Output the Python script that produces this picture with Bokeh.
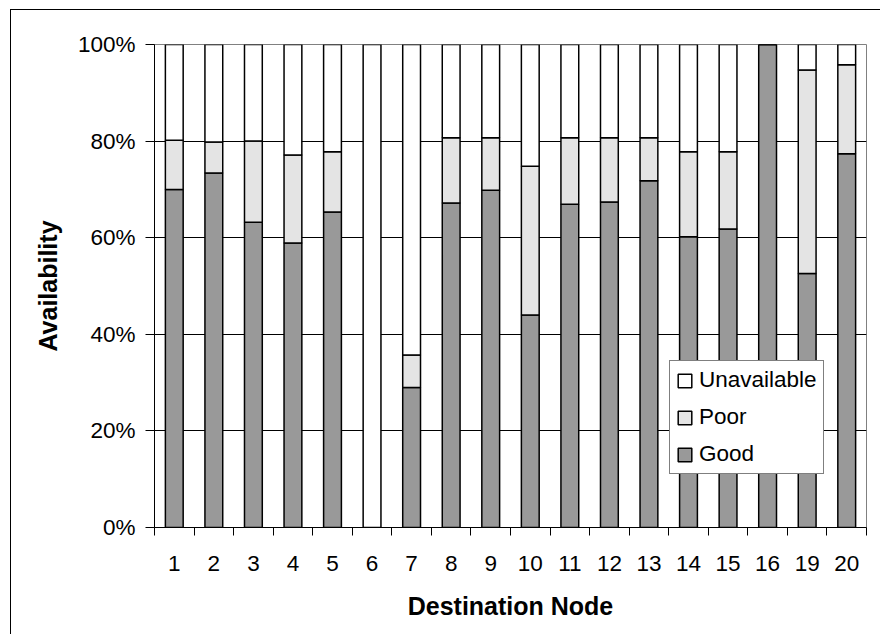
from bokeh.plotting import figure
from bokeh.models import Range1d, FixedTicker, Legend, LegendItem, ColumnDataSource
from bokeh.embed import file_html
from bokeh.resources import INLINE

# ---- data (percent of time) ----
nodes = ["1", "2", "3", "4", "5", "6", "7", "8", "9", "10",
         "11", "12", "13", "14", "15", "16", "19", "20"]
good = [70.0, 73.4, 63.2, 58.9, 65.3, 0.0, 29.0, 67.2, 69.8, 44.0,
        66.9, 67.4, 71.8, 60.2, 61.8, 100.0, 52.6, 77.4]
poor = [10.2, 6.4, 16.8, 18.2, 12.5, 0.0, 6.7, 13.5, 10.9, 30.8,
        13.8, 13.3, 8.9, 17.6, 16.0, 0.0, 42.1, 18.4]
unavailable = [19.8, 20.2, 20.0, 22.9, 22.2, 100.0, 64.3, 19.3, 19.3, 25.2,
               19.3, 19.3, 19.3, 22.2, 22.2, 0.0, 5.3, 4.2]
y_ticks = [0, 20, 40, 60, 80, 100]
series = ["good", "poor", "unavailable"]
series_labels = ["Good", "Poor", "Unavailable"]
colors = ["#999999", "#E4E4E4", "#FFFFFF"]

FONT = "Liberation Sans"

x = [i + 0.5 for i in range(len(nodes))]
src = ColumnDataSource(dict(x=x, good=good, poor=poor, unavailable=unavailable))

p = figure(width=870, height=625, output_backend="svg", toolbar_location=None,
           x_range=Range1d(0, len(nodes)), y_range=Range1d(0, 100),
           min_border_left=143, min_border_right=15, min_border_top=34,
           min_border_bottom=108, background_fill_color="white",
           border_fill_color="white")

renderers = p.vbar_stack(series, x="x", width=0.45, source=src,
                         fill_color=colors, line_color="black", line_width=1.5)

# grid
p.xgrid.visible = False
p.ygrid.ticker = FixedTicker(ticks=[t for t in y_ticks if 0 < t < 100])
p.ygrid.grid_line_color = "black"
p.ygrid.grid_line_width = 1
p.outline_line_color = "#808080"
p.outline_line_width = 1

# y axis
p.yaxis.ticker = FixedTicker(ticks=y_ticks)
p.yaxis.major_label_overrides = {t: f"{t}%" for t in y_ticks}
p.yaxis.major_tick_out = 9
p.yaxis.major_tick_in = 0
p.yaxis.minor_tick_out = 0
p.yaxis.minor_tick_in = 0
p.yaxis.major_label_standoff = 10
p.yaxis.axis_label = "Availability"
p.yaxis.axis_label_standoff = 13

# x axis
p.xaxis.ticker = FixedTicker(ticks=x, minor_ticks=list(range(len(nodes) + 1)))
p.xaxis.major_label_overrides = {xv: n for xv, n in zip(x, nodes)}
p.xaxis.major_tick_out = 0
p.xaxis.major_tick_in = 0
p.xaxis.minor_tick_out = 8
p.xaxis.minor_tick_in = 0
p.xaxis.major_label_standoff = 20
p.xaxis.axis_label = "Destination Node"
p.xaxis.axis_label_standoff = 18

for ax in (p.xaxis, p.yaxis):
    ax.axis_line_color = "black"
    ax.axis_line_width = 1
    ax.major_tick_line_color = "black"
    ax.minor_tick_line_color = "black"
    ax.major_label_text_font = FONT
    ax.major_label_text_font_size = "22.5px"
    ax.major_label_text_color = "black"
    ax.axis_label_text_font = FONT
    ax.axis_label_text_font_size = "25px"
    ax.axis_label_text_font_style = "bold"
    ax.axis_label_text_color = "black"

# legend (top-to-bottom: Unavailable, Poor, Good)
items = [LegendItem(label=series_labels[i], renderers=[renderers[i]])
         for i in reversed(range(len(series)))]
legend = Legend(items=items, location=(515, 53),
                border_line_color="black", border_line_width=1,
                background_fill_color="white", background_fill_alpha=1.0,
                label_text_font=FONT, label_text_font_size="22.5px",
                label_text_color="black",
                glyph_width=17, glyph_height=17, label_standoff=6,
                spacing=11, padding=6, margin=0)
p.add_layout(legend)

# outer frame of the chart area
p.styles = {"border-top": "1px solid black", "border-left": "1px solid black"}
p.margin = (9, 0, 0, 10)

open("out.html", "w").write(file_html(p, INLINE))
